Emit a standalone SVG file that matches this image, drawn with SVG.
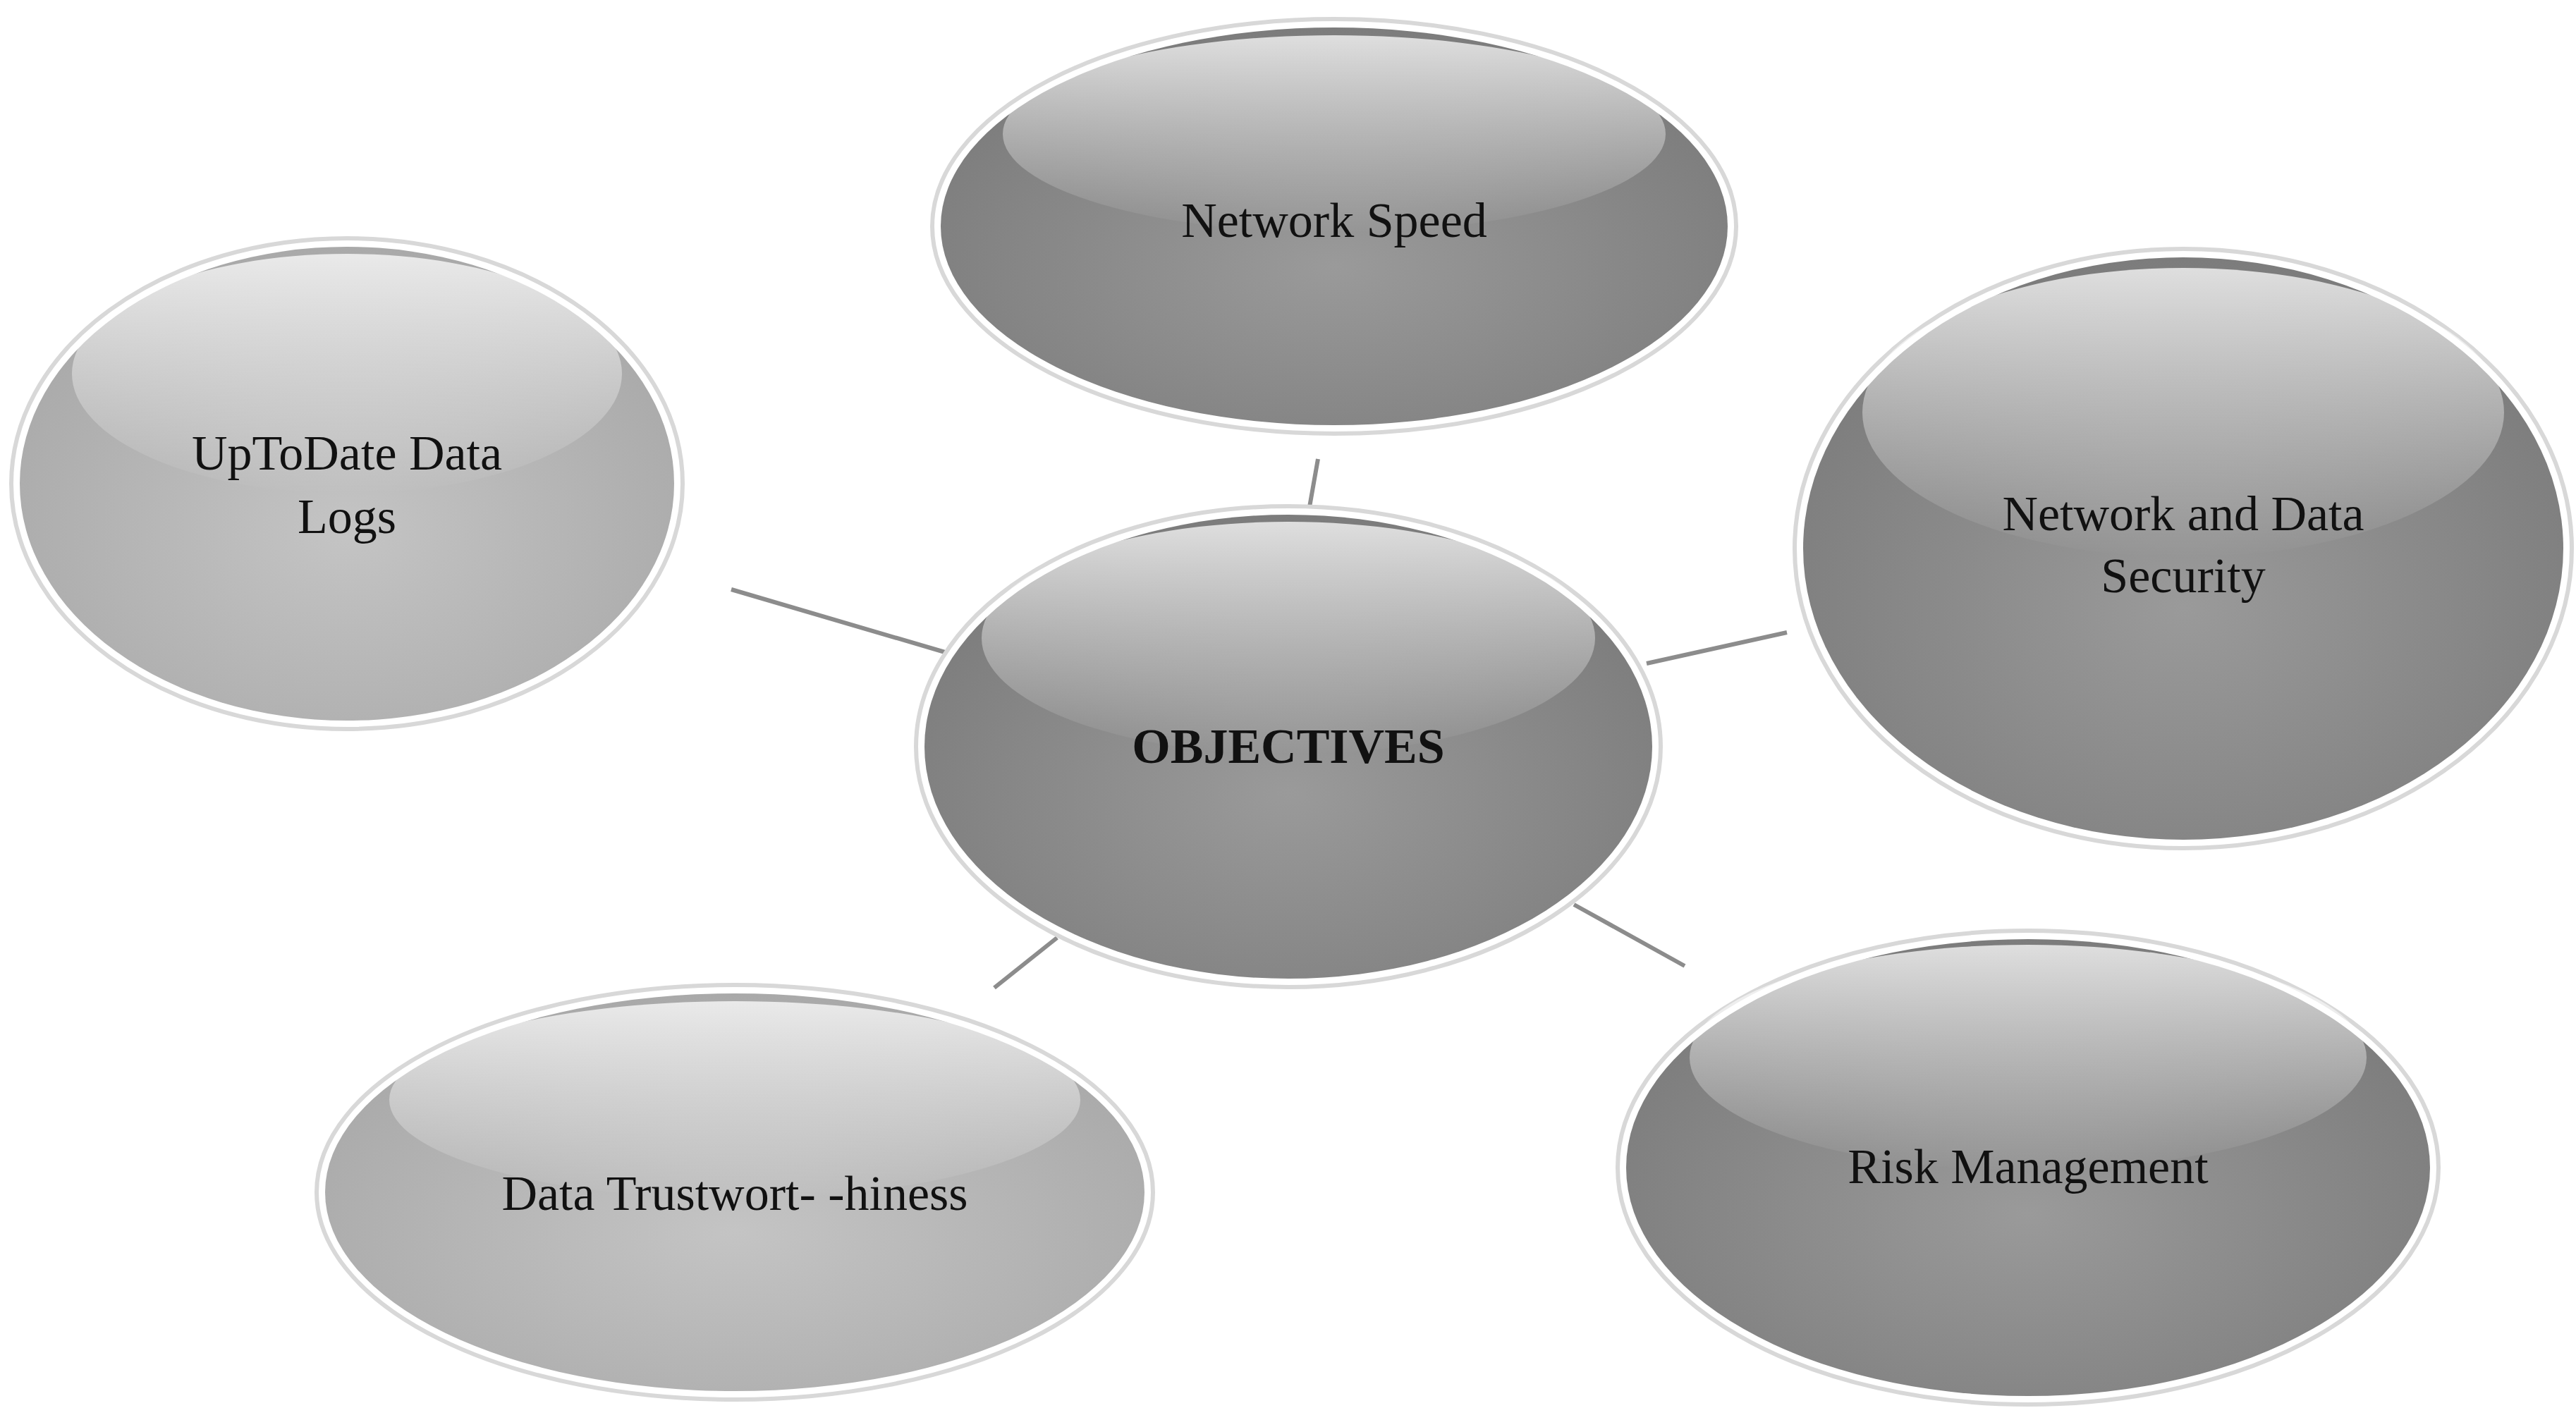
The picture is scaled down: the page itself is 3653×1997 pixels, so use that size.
<svg xmlns="http://www.w3.org/2000/svg" width="3653" height="1997" viewBox="0 0 3653 1997">
<style>
.t{font-family:"Liberation Serif",serif;font-size:70px;fill:#111;text-anchor:middle}
.rim{fill:#fff;stroke:#d8d8d8;stroke-width:6}
.dk{fill:url(#gd)}
.lt{fill:url(#gl)}
.hl{fill:url(#gh)}
.c{stroke:#8c8c8c;stroke-width:6;fill:none}
</style>
<defs>
<radialGradient id="gd" cx="0.5" cy="0.6" r="0.6"><stop offset="0" stop-color="#9a9a9a"/><stop offset="1" stop-color="#7c7c7c"/></radialGradient>
<radialGradient id="gl" cx="0.5" cy="0.6" r="0.6"><stop offset="0" stop-color="#c4c4c4"/><stop offset="1" stop-color="#a9a9a9"/></radialGradient>
<linearGradient id="gh" x1="0" y1="0" x2="0" y2="1"><stop offset="0" stop-color="#fff" stop-opacity="0.75"/><stop offset="1" stop-color="#fff" stop-opacity="0"/></linearGradient>
</defs>
<rect width="3653" height="1997" fill="#fff"/>
<g id="connectors">
<line class="c" x1="1869" y1="651" x2="1857" y2="719"/>
<line class="c" x1="1037" y1="836" x2="1340" y2="925"/>
<line class="c" x1="2335" y1="941" x2="2534" y2="897"/>
<line class="c" x1="1410" y1="1401" x2="1499" y2="1330"/>
<line class="c" x1="2232" y1="1283" x2="2389" y2="1370"/>
</g>
<g id="speed">
<ellipse class="rim" cx="1892" cy="321" rx="570" ry="294"/>
<ellipse class="dk" cx="1892" cy="321" rx="558" ry="282"/>
<ellipse class="hl" cx="1892" cy="190" rx="470" ry="140"/>
<text class="t" x="1892" y="336">Network Speed</text>
</g>
<g id="uptodate">
<ellipse class="rim" cx="492" cy="686" rx="476" ry="348"/>
<ellipse class="lt" cx="492" cy="686" rx="464" ry="336"/>
<ellipse class="hl" cx="492" cy="530" rx="390" ry="170"/>
<text class="t" x="492" y="666">UpToDate Data</text>
<text class="t" x="492" y="756">Logs</text>
</g>
<g id="security">
<ellipse class="rim" cx="3096" cy="778" rx="551" ry="425"/>
<ellipse class="dk" cx="3096" cy="778" rx="539" ry="413"/>
<ellipse class="hl" cx="3096" cy="585" rx="455" ry="205"/>
<text class="t" x="3096" y="752">Network and Data</text>
<text class="t" x="3096" y="840">Security</text>
</g>
<g id="objectives">
<ellipse class="rim" cx="1827" cy="1059" rx="528" ry="341"/>
<ellipse class="dk" cx="1827" cy="1059" rx="516" ry="329"/>
<ellipse class="hl" cx="1827" cy="905" rx="435" ry="165"/>
<text class="t" x="1827" y="1082" font-weight="bold">OBJECTIVES</text>
</g>
<g id="trust">
<ellipse class="rim" cx="1042" cy="1691" rx="593" ry="294"/>
<ellipse class="lt" cx="1042" cy="1691" rx="581" ry="282"/>
<ellipse class="hl" cx="1042" cy="1560" rx="490" ry="140"/>
<text class="t" x="1042" y="1716">Data Trustwort- -hiness</text>
</g>
<g id="risk">
<ellipse class="rim" cx="2876" cy="1656" rx="582" ry="336"/>
<ellipse class="dk" cx="2876" cy="1656" rx="570" ry="324"/>
<ellipse class="hl" cx="2876" cy="1500" rx="480" ry="160"/>
<text class="t" x="2876" y="1678">Risk Management</text>
</g>
</svg>
